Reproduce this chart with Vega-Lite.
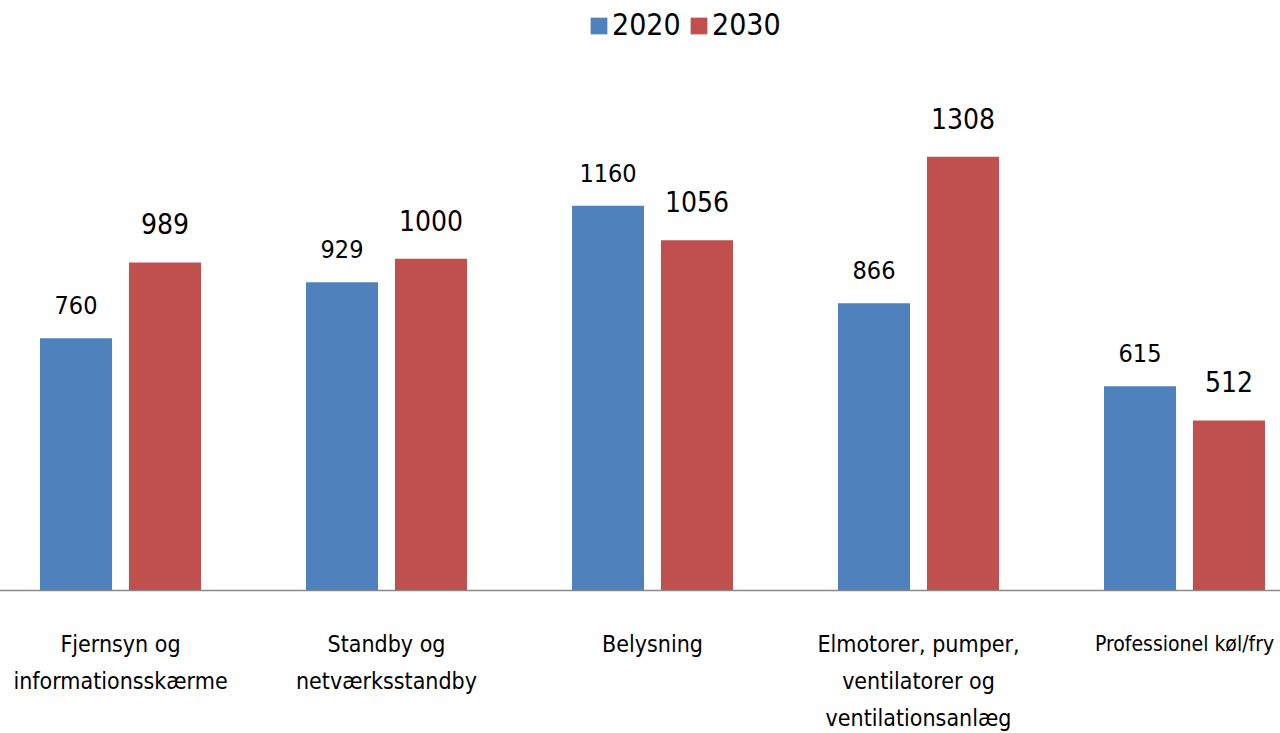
{
  "$schema": "https://vega.github.io/schema/vega-lite/v6.json",
  "width": 1266,
  "height": 530,
  "autosize": "none",
  "padding": {"left": 14, "top": 60, "right": 0, "bottom": 143},
  "background": "white",
  "config": {
    "font": "Liberation Sans Narrow, DejaVu Sans Condensed, sans-serif",
    "view": {"stroke": null}
  },
  "data": {
    "values": [
      {"Kategori": "Fjernsyn og\ninformationsskærme", "År": "2020", "Værdi": 760},
      {"Kategori": "Fjernsyn og\ninformationsskærme", "År": "2030", "Værdi": 989},
      {"Kategori": "Standby og\nnetværksstandby", "År": "2020", "Værdi": 929},
      {"Kategori": "Standby og\nnetværksstandby", "År": "2030", "Værdi": 1000},
      {"Kategori": "Belysning", "År": "2020", "Værdi": 1160},
      {"Kategori": "Belysning", "År": "2030", "Værdi": 1056},
      {"Kategori": "Elmotorer, pumper,\nventilatorer og\nventilationsanlæg", "År": "2020", "Værdi": 866},
      {"Kategori": "Elmotorer, pumper,\nventilatorer og\nventilationsanlæg", "År": "2030", "Værdi": 1308},
      {"Kategori": "Professionel køl/fry", "År": "2020", "Værdi": 615},
      {"Kategori": "Professionel køl/fry", "År": "2030", "Værdi": 512}
    ]
  },
  "encoding": {
    "x": {
      "field": "Kategori",
      "type": "nominal",
      "sort": null,
      "title": null,
      "scale": {"paddingInner": 0, "paddingOuter": 0, "range": [-26.5, 1303.5]},
      "axis": {
        "labelAngle": 0,
        "labelExpr": "split(datum.label, '\\n')",
        "labelFontSize": {
          "condition": {"test": "datum.value == 'Professionel køl/fry'", "value": 21},
          "value": 23
        },
        "labelLineHeight": 37,
        "labelColor": "black",
        "labelBaseline": "top",
        "labelPadding": 43,
        "labelLimit": 0,
        "labelOverlap": false,
        "labelFlush": false,
        "ticks": false,
        "domainColor": "#898989",
        "domainWidth": 1.5
      }
    },
    "xOffset": {
      "field": "År",
      "type": "nominal",
      "scale": {"paddingInner": 0.19, "paddingOuter": 0.59}
    },
    "y": {
      "field": "Værdi",
      "type": "quantitative",
      "scale": {"domain": [0, 1600]},
      "axis": null
    }
  },
  "layer": [
    {
      "mark": "bar",
      "encoding": {
        "color": {
          "field": "År",
          "type": "nominal",
          "scale": {"range": ["#4F81BD", "#C0504D"]},
          "legend": {
            "title": null,
            "orient": "none",
            "legendX": 570,
            "legendY": -49,
            "direction": "horizontal",
            "symbolType": "square",
            "symbolSize": 280,
            "symbolStrokeWidth": 0,
            "labelFontSize": 30,
            "labelOffset": -2,
            "columnPadding": 3,
            "padding": 0
          }
        }
      }
    },
    {
      "transform": [{"filter": "datum['År'] == '2020'"}],
      "mark": {"type": "text", "baseline": "alphabetic", "dy": -24, "fontSize": 25, "color": "black"},
      "encoding": {
        "text": {"field": "Værdi", "type": "quantitative"}
      }
    },
    {
      "transform": [{"filter": "datum['År'] == '2030'"}],
      "mark": {"type": "text", "baseline": "alphabetic", "dy": -28, "fontSize": 28, "color": "black"},
      "encoding": {
        "text": {"field": "Værdi", "type": "quantitative"}
      }
    }
  ]
}
